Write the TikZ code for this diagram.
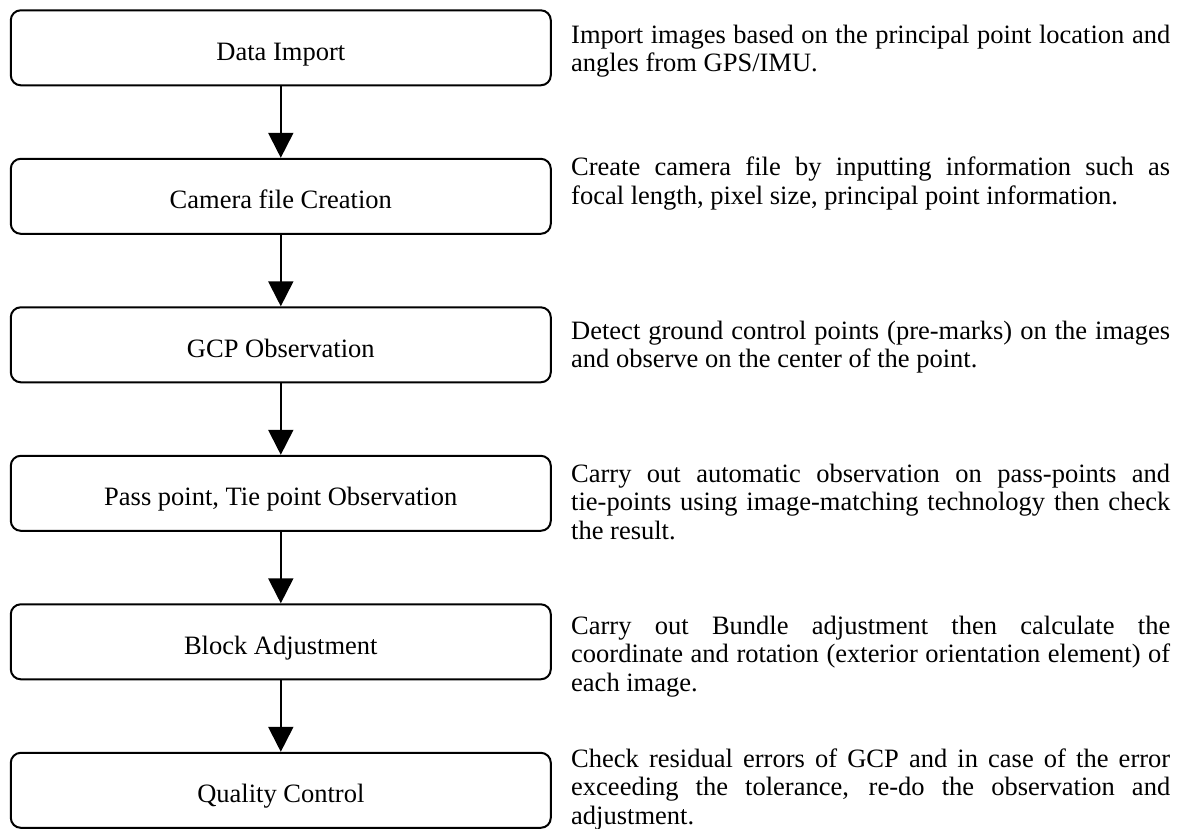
\documentclass[tikz,border=0pt]{standalone}
\usepackage{fontspec}
\setmainfont{Liberation Serif}
\usetikzlibrary{arrows.meta}
\newcommand{\jl}[1]{\hbox to 599pt{#1}}
\newcommand{\lastline}[1]{\hbox{#1}}
\begin{document}
\begin{tikzpicture}[x=1pt,y=-1pt,
  stepbox/.style={draw, line width=2pt, rounded corners=10pt,
    minimum width=540pt, minimum height=75pt, inner sep=0pt,
    text height=25pt, text depth=0pt,
    font=\fontsize{26.5}{28.5}\selectfont},
  desc/.style={anchor=base west, inner sep=0pt,
    font=\fontsize{26.5}{28.5}\selectfont},
  flow/.style={line width=2pt, -{Triangle[width=25pt,length=25pt]}}]
\useasboundingbox (0,0) rectangle (1181,829);

\node[stepbox] (b1) at (280.8,47.8)  {Data Import};
\node[stepbox] (b2) at (280.8,196.3) {Camera file Creation};
\node[stepbox] (b3) at (280.8,344.8) {GCP Observation};
\node[stepbox] (b4) at (280.8,493.3) {Pass point, Tie point Observation};
\node[stepbox] (b5) at (280.8,641.8) {Block Adjustment};
\node[stepbox] (b6) at (280.8,790.3) {Quality Control};

\draw[flow] (b1.south) -- (b2.north);
\draw[flow] (b2.south) -- (b3.north);
\draw[flow] (b3.south) -- (b4.north);
\draw[flow] (b4.south) -- (b5.north);
\draw[flow] (b5.south) -- (b6.north);

\node[desc] (t1) at (571,43.3) {\vtop{%
  \jl{Import images based on the principal point location and}%
  \lastline{angles from GPS/IMU.}}};
\node[desc] (t2) at (571,176) {\vtop{%
  \jl{Create camera file by inputting information such as}%
  \lastline{focal length, pixel size, principal point information.}}};
\node[desc] (t3) at (571,339) {\vtop{%
  \jl{Detect ground control points (pre-marks) on the images}%
  \lastline{and observe on the center of the point.}}};
\node[desc] (t4) at (571,482) {\vtop{%
  \jl{Carry out automatic observation on pass-points and}%
  \jl{tie-points using image-matching technology then check}%
  \lastline{the result.}}};
\node[desc] (t5) at (571,634) {\vtop{%
  \jl{Carry out Bundle adjustment then calculate the}%
  \jl{coordinate and rotation (exterior orientation element) of}%
  \lastline{each image.}}};
\node[desc] (t6) at (571,767) {\vtop{%
  \jl{Check residual errors of GCP and in case of the error}%
  \jl{exceeding the tolerance, re-do the observation and}%
  \lastline{adjustment.}}};
\end{tikzpicture}
\end{document}
